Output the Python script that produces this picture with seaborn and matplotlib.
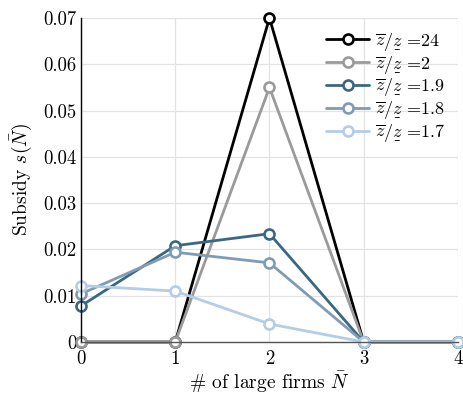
import matplotlib
matplotlib.use("Agg")
import matplotlib.pyplot as plt
from matplotlib.mathtext import MathTextParser
import seaborn as sns
import pandas as pd
import numpy as np

n_large = [0, 1, 2, 3, 4]
ratios = ["24", "2", "1.9", "1.8", "1.7"]
s_24 = [0.0, 0.0, 0.070, 0.0, 0.0]
s_2 = [0.0, 0.0, 0.055, 0.0, 0.0]
s_19 = [0.0078, 0.0208, 0.0234, 0.0, 0.0]
s_18 = [0.0104, 0.0194, 0.0171, 0.0, 0.0]
s_17 = [0.0122, 0.0110, 0.0039, 0.0, 0.0]
colors = ["#000000", "#9a9a9a", "#3a6882", "#7f9bb6", "#b3cde6"]
y_ticks = [0, 0.01, 0.02, 0.03, 0.04, 0.05, 0.06, 0.07]
y_tick_labels = ["0", "0.01", "0.02", "0.03", "0.04", "0.05", "0.06", "0.07"]
x_tick_labels = ["0", "1", "2", "3", "4"]

sns.set_theme(style="white")
plt.rcParams["font.family"] = ["cmr10", "DejaVu Serif"]
plt.rcParams["mathtext.fontset"] = "cm"
plt.rcParams["axes.formatter.use_mathtext"] = True
plt.rcParams["text.color"] = "black"
plt.rcParams["axes.labelcolor"] = "black"
plt.rcParams["xtick.color"] = "black"
plt.rcParams["ytick.color"] = "black"

prefix = r"$\overline{z}/z$"
parser = MathTextParser("agg")
for cand in [r"$\overline{z}/\underset{\_}{z}$", r"$\overline{z}/\underset{-}{z}$"]:
    try:
        parser.parse(cand, dpi=100)
        prefix = cand
        break
    except Exception:
        pass

series = [s_24, s_2, s_19, s_18, s_17]
labels = [prefix + " =" + r for r in ratios]
rows = []
for lab, vals in zip(labels, series):
    for x, v in zip(n_large, vals):
        rows.append({"N": x, "s": v, "ratio": lab})
df = pd.DataFrame(rows)

fig = plt.figure(figsize=(4.63, 3.98), dpi=100)
ax = fig.add_axes([0.175, 0.1407, 0.814, 0.814])

sns.lineplot(data=df, x="N", y="s", hue="ratio", hue_order=labels,
             palette=colors, marker="o", markersize=7.2, markeredgewidth=1.9,
             markerfacecolor="white", linewidth=2.0, ax=ax,
             legend=True)
for ln, c in zip(ax.lines, colors):
    ln.set_markeredgecolor(c)
    ln.set_clip_on(False)

ax.set_xlim(0, 4)
ax.set_ylim(0, 0.07)
ax.set_xticks(n_large)
ax.set_xticklabels(x_tick_labels)
ax.set_yticks(y_ticks)
ax.set_yticklabels(y_tick_labels)
ax.tick_params(direction="in", length=4, width=0.8, labelsize=13.5, pad=3)
ax.tick_params(axis="x", pad=6)
ax.grid(True, color="#e3e3e3", linewidth=0.9)
for side in ["top", "right"]:
    ax.spines[side].set_visible(False)
ax.spines["left"].set_color("black")
ax.spines["left"].set_linewidth(1.0)
ax.spines["bottom"].set_color("#555555")
ax.spines["bottom"].set_linewidth(1.0)
ax.set_axisbelow(True)

ax.set_xlabel(r"# of large firms $\bar{N}$", fontsize=14, labelpad=1)
ax.set_ylabel(r"Subsidy $s(\bar{N})$", fontsize=14, labelpad=7)

leg = ax.legend(loc="upper right", frameon=False, fontsize=13, handlelength=2.4,
                labelspacing=0.05, handletextpad=0.3, borderaxespad=0.3)
for h, c in zip(leg.get_lines(), colors):
    h.set_color(c)
    h.set_markeredgecolor(c)
    h.set_markerfacecolor("white")

fig.savefig("out.png", dpi=100)
